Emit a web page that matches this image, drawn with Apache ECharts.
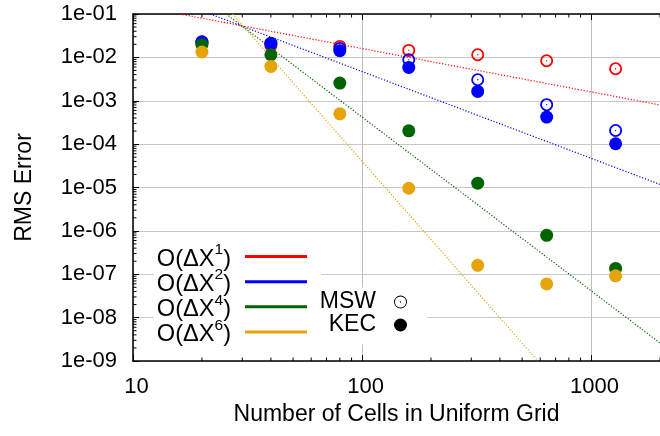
<!DOCTYPE html>
<html>
<head>
<meta charset="utf-8">
<script src="https://cdn.jsdelivr.net/npm/echarts@6/dist/echarts.min.js"></script>
<style>
  html, body { margin: 0; padding: 0; background: #fff; }
  #chart { width: 660px; height: 436px; }
</style>
</head>
<body>
<div id="chart"></div>
<script>
// Grid resolution (number of cells) for each convergence run
const cells = [20, 40, 80, 160, 320, 640, 1280];

// RMS error, MSW scheme (hollow markers)
const mswFirstOrder  = [0.0210, 0.0186, 0.0179, 0.0145, 0.0115, 0.00835, 0.00547];
const mswSecondOrder = [0.0228, 0.0212, 0.0160, 0.0088, 0.00305, 0.00081, 0.000206];

// RMS error, KEC scheme (filled markers)
const kecSecondOrder = [0.0226, 0.0206, 0.0142, 0.00586, 0.00164, 0.00042, 0.000102];
const kecFourthOrder = [0.0196, 0.0115, 0.00256, 0.000203, 1.26e-5, 7.9e-7, 1.36e-7];
const kecSixthOrder  = [0.0133, 0.0062, 0.00050, 9.6e-6, 1.61e-7, 5.97e-8, 9.2e-8];

// Reference slopes O(dX^n): two end points of each straight line on log-log axes
const guideOrder1 = [[16, 0.1], [2000, 8.0e-4]];
const guideOrder2 = [[21.7, 0.1], [2000, 1.18e-5]];
const guideOrder4 = [[25.5, 0.1], [2000, 2.6e-9]];
const guideOrder6 = [[27.2, 0.1], [586, 1e-9]];

// Axis ranges and tick labels
const xMin = 10, xMax = 2000;
const yMin = 1e-9, yMax = 1e-1;
const xTickLabels = { 1: '10', 2: '100', 3: '1000' };
const yTickLabels = ['1e-09', '1e-08', '1e-07', '1e-06', '1e-05', '1e-04', '1e-03', '1e-02', '1e-01'];
const minorSteps = [2, 3, 4, 5, 6, 7, 8, 9];
const xDecades = [10, 100, 1000];
const yDecades = [1e-9, 1e-8, 1e-7, 1e-6, 1e-5, 1e-4, 1e-3, 1e-2];

const xMinorTicks = [];
xDecades.forEach(d => minorSteps.forEach(s => { if (d * s <= xMax) xMinorTicks.push(d * s); }));
const yMinorTicks = [];
yDecades.forEach(d => yMinorTicks.push(...minorSteps.map(s => d * s)));

const FONT = "'Liberation Sans', Arial, Helvetica, sans-serif";
const RED = '#ff0000', BLUE = '#0000ff', GREEN = '#006400', GOLD = '#e5a50a';

// ring with a centre dot (nonzero fill: outer clockwise, inner anticlockwise)
const RING = 'path://M13,0A13,13 0 1,1 13,26A13,13 0 1,1 13,0Z' +
             'M13,3.6A9.4,9.4 0 1,0 13,22.4A9.4,9.4 0 1,0 13,3.6Z' +
             'M13,11.7A1.3,1.3 0 1,1 13,14.3A1.3,1.3 0 1,1 13,11.7Z';
const RING_THIN = 'path://M13,0A13,13 0 1,1 13,26A13,13 0 1,1 13,0Z' +
                  'M13,1.8A11.2,11.2 0 1,0 13,24.2A11.2,11.2 0 1,0 13,1.8Z' +
                  'M13,11.7A1.3,1.3 0 1,1 13,14.3A1.3,1.3 0 1,1 13,11.7Z';

const pairs = ys => cells.map((c, i) => [c, ys[i]]);

const guideNames = ['O(ΔX^1)', 'O(ΔX^2)', 'O(ΔX^4)', 'O(ΔX^6)'];
const guideData = [guideOrder1, guideOrder2, guideOrder4, guideOrder6];
const guideColors = [RED, BLUE, GREEN, GOLD];

const guideSeries = guideNames.map((name, i) => ({
  name, type: 'line', data: guideData[i], symbol: 'none',
  lineStyle: { color: guideColors[i], width: 1.2, type: [1.2, 1.8] },
  itemStyle: { color: guideColors[i] },
  z: 2, silent: true
}));

const pointSeries = [
  { name: 'MSW', data: pairs(mswFirstOrder), symbol: RING, color: RED },
  { name: 'MSW', data: pairs(mswSecondOrder), symbol: RING, color: BLUE },
  { name: 'KEC', data: pairs(kecSecondOrder), symbol: 'circle', color: BLUE },
  { name: 'KEC', data: pairs(kecFourthOrder), symbol: 'circle', color: GREEN },
  { name: 'KEC', data: pairs(kecSixthOrder), symbol: 'circle', color: GOLD }
].map(s => ({
  name: s.name, type: 'scatter', data: s.data, symbol: s.symbol, symbolSize: 13,
  itemStyle: { color: s.color, opacity: 1 }, z: 3, silent: true
}));

const tickLine = (x1, y1, x2, y2) => ({
  type: 'line', shape: { x1, y1, x2, y2 }, style: { stroke: '#000', lineWidth: 1 }
});

const minorTickSeries = [
  {
    type: 'custom', data: xMinorTicks.map(v => [v, yMin]), clip: false, silent: true, z: 4,
    renderItem: (params, api) => {
      const b = api.coord([api.value(0), yMin]);
      const t = api.coord([api.value(0), yMax]);
      return { type: 'group', children: [
        tickLine(b[0], b[1], b[0], b[1] - 3.5),
        tickLine(t[0], t[1], t[0], t[1] + 3.5)
      ] };
    }
  },
  {
    type: 'custom', data: yMinorTicks.map(v => [xMin, v]), clip: false, silent: true, z: 4,
    renderItem: (params, api) => {
      const p = api.coord([xMin, api.value(1)]);
      return tickLine(p[0], p[1], p[0] + 3.5, p[1]);
    }
  }
];

const tickTxt = { fontFamily: FONT, fontSize: 22, color: '#000' };
const titleTxt = { fontFamily: FONT, fontSize: 23, color: '#000' };

const option = {
  animation: false,
  backgroundColor: '#fff',
  textStyle: { fontFamily: FONT },
  grid: { left: 133, top: 14, width: 532.7, height: 347, containLabel: false },
  xAxis: [
    {
      type: 'log', logBase: 10, min: xMin, max: xMax, interval: 1, position: 'bottom',
      axisLine: { onZero: false, lineStyle: { color: '#000', width: 1.5 } },
      axisTick: { inside: true, length: 6, lineStyle: { color: '#000', width: 1 } },
      axisLabel: Object.assign({ margin: 15, showMaxLabel: false, padding: [0, 0, 0, 7],
        formatter: v => xTickLabels[Math.round(Math.log10(v))] || '' }, tickTxt),
      splitLine: { show: true, lineStyle: { color: '#bdbdbd', width: 1 } },
      name: 'Number of Cells in Uniform Grid', nameLocation: 'middle', nameGap: 42,
      nameTextStyle: titleTxt
    },
    {
      type: 'log', logBase: 10, min: xMin, max: xMax, interval: 1, position: 'top',
      axisLine: { onZero: false, lineStyle: { color: '#000', width: 1.5 } },
      axisTick: { inside: true, length: 6, lineStyle: { color: '#000', width: 1 } },
      axisLabel: { show: false }, splitLine: { show: false }
    }
  ],
  yAxis: {
    type: 'log', logBase: 10, min: yMin, max: yMax, interval: 1,
    axisLine: { onZero: false, lineStyle: { color: '#000', width: 1.5 } },
    axisTick: { inside: true, length: 6, lineStyle: { color: '#000', width: 1 } },
    axisLabel: Object.assign({ margin: 16,
      formatter: v => yTickLabels[Math.round(Math.log10(v)) + 9] || '' }, tickTxt),
    splitLine: { show: true, lineStyle: { color: '#c8c8c8', width: 1 } },
    name: 'RMS Error', nameLocation: 'middle', nameRotate: 90, nameGap: 97,
    nameTextStyle: titleTxt
  },
  legend: [
    {
      orient: 'vertical', right: 339, top: 236, align: 'right',
      itemWidth: 62, itemHeight: 3, itemGap: -4, selectedMode: false,
      backgroundColor: '#fff', padding: [6, 14, 4, 3],
      data: guideNames.map((name, i) => ({ name, icon: 'rect', itemStyle: { color: guideColors[i] } })),
      formatter: name => {
        const m = name.match(/^(.*)\^(\d)(\))$/);
        return '{t|' + m[1] + '}{s|' + m[2] + '}{e|' + m[3] + '}';
      },
      textStyle: {
        color: '#000', fontFamily: FONT,
        rich: {
          t: { fontFamily: FONT, fontSize: 23.6, lineHeight: 27.5, height: 22.2, verticalAlign: 'bottom', color: '#000' },
          s: { fontFamily: FONT, fontSize: 15.5, lineHeight: 10, height: 14.5, verticalAlign: 'top', color: '#000' },
          e: { fontFamily: FONT, fontSize: 23.6, lineHeight: 27.5, height: 22.2, verticalAlign: 'bottom', color: '#000', padding: [0, 9, 0, 0] }
        }
      }
    },
    {
      orient: 'vertical', right: 233, top: 287.5, align: 'right',
      itemWidth: 13, itemHeight: 13, itemGap: 0, selectedMode: false,
      backgroundColor: '#fff', padding: [3, 20, 8, 5],
      data: [
        { name: 'MSW', icon: RING_THIN, itemStyle: { color: '#000', borderWidth: 0 } },
        { name: 'KEC', icon: 'circle', itemStyle: { color: '#000', borderWidth: 0 } }
      ],
      formatter: name => '{k|' + name + '}',
      textStyle: {
        color: '#000', fontFamily: FONT,
        rich: { k: { fontFamily: FONT, fontSize: 23, lineHeight: 23.6, color: '#000', padding: [0, 13, 0, 0] } }
      }
    }
  ],
  series: [...guideSeries, ...pointSeries, ...minorTickSeries]
};

const chart = echarts.init(document.getElementById('chart'), null, { renderer: 'canvas' });
chart.setOption(option);
</script>
</body>
</html>
